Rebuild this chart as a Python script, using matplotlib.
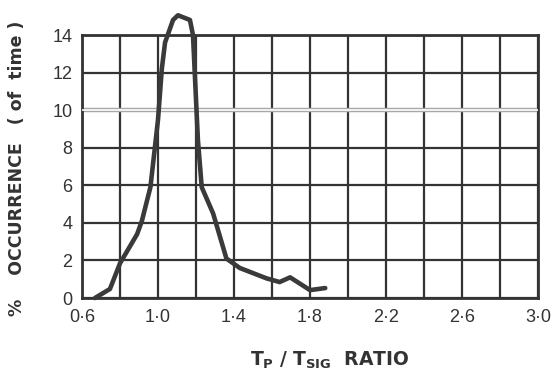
import matplotlib.pyplot as plt
from matplotlib.ticker import MultipleLocator

# Tp/Tsig ratio against percentage occurrence
ratio = [0.668, 0.747, 0.80, 0.89, 0.915, 0.96, 1.0, 1.02, 1.037, 1.079,
         1.105, 1.168, 1.184, 1.21, 1.23, 1.29, 1.36, 1.43, 1.57, 1.64,
         1.695, 1.80, 1.88]
occurrence = [0.0, 0.48, 1.85, 3.4, 4.1, 5.9, 9.5, 12.2, 13.6, 14.8,
              15.05, 14.8, 14.0, 8.4, 5.9, 4.5, 2.1, 1.6, 1.05, 0.85,
              1.1, 0.42, 0.53]

x_ticks = [0.6, 1.0, 1.4, 1.8, 2.2, 2.6, 3.0]
x_tick_labels = ["0·6", "1·0", "1·4", "1·8", "2·2", "2·6", "3·0"]
y_ticks = [0, 2, 4, 6, 8, 10, 12, 14]

INK = "#333333"
TICK_FONT = ["Liberation Sans Narrow", "Liberation Sans"]

fig = plt.figure(figsize=(5.53, 3.78), dpi=100)
ax = fig.add_axes([0.1483, 0.2116, 0.8247, 0.6958])
ax.set_xlim(0.6, 3.0)
ax.set_ylim(0, 14)

ax.xaxis.set_minor_locator(MultipleLocator(0.2))
ax.yaxis.set_major_locator(MultipleLocator(2))
ax.grid(which="both", color=INK, linewidth=1.6)
ax.set_axisbelow(True)
for spine in ax.spines.values():
    spine.set_color(INK)
    spine.set_linewidth(2.0)

# pale double rule across the 10 % level
ax.axhline(10, color="#a8a8a8", linewidth=3.2, zorder=2.5)
ax.axhline(10, color="white", linewidth=1.2, zorder=2.6)

ax.plot(ratio, occurrence, color="#3a3a3a", linewidth=3.3,
        solid_joinstyle="round", solid_capstyle="round",
        clip_on=False, zorder=4)

ax.set_xticks(x_ticks)
ax.set_xticklabels(x_tick_labels)
ax.set_yticks(y_ticks)
ax.tick_params(which="both", length=0, labelsize=13, colors=INK)
ax.tick_params(axis="x", pad=8)
ax.tick_params(axis="y", pad=7)
for lbl in ax.get_xticklabels() + ax.get_yticklabels():
    lbl.set_family(TICK_FONT)

fig.text(0.030, 0.555, "%    OCCURRENCE   ( of  time )",
         rotation=90, ha="center", va="center", fontsize=12.5,
         fontweight="bold", color=INK)
fig.text(0.597, 0.046, r"$\mathbf{T_{P}\ /\ T_{SIG}}$  RATIO",
         ha="center", va="center", fontsize=13.5, fontweight="bold", color=INK)

fig.savefig("out.png", dpi=100)
